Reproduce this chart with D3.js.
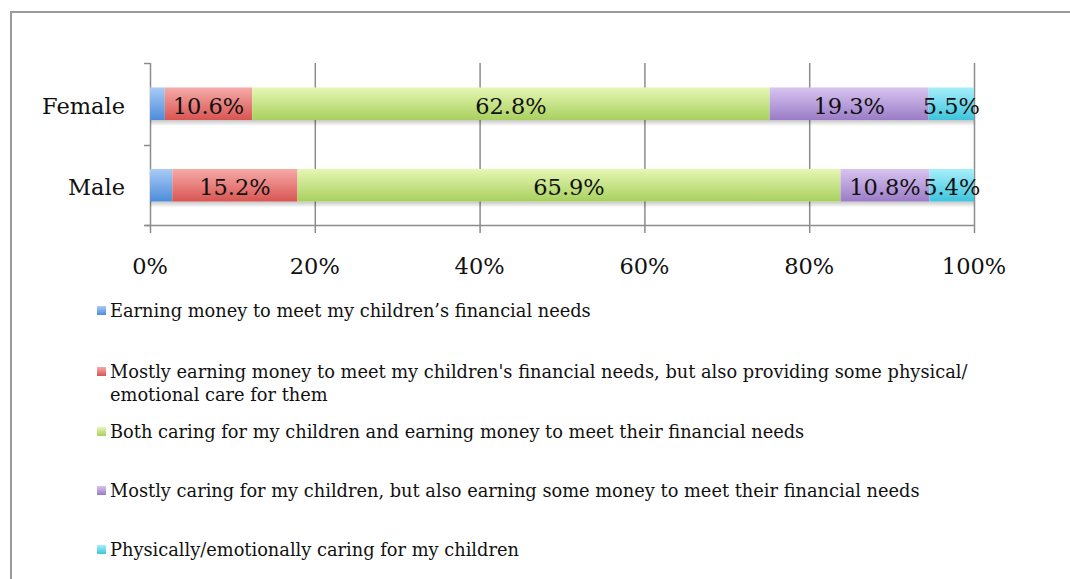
<!DOCTYPE html>
<html>
<head>
<meta charset="utf-8">
<script src="https://cdn.jsdelivr.net/npm/d3@7"></script>
<style>
  html, body { margin: 0; padding: 0; background: #fff; }
  svg { display: block; font-family: "DejaVu Serif", "Liberation Serif", serif; }
</style>
</head>
<body>
<svg id="chart" width="1070" height="579"></svg>
<script>
// Share of respondents by how they describe their parenting role
const groups = ["Female", "Male"];
const seriesNames = [
  "Earning money to meet my children\u2019s financial needs",
  "Mostly earning money to meet my children's financial needs, but also providing some physical/ emotional care for them",
  "Both caring for my children and earning money to meet their financial needs",
  "Mostly caring for my children, but also earning some money to meet their financial needs",
  "Physically/emotionally caring for my children"
];
const femaleValues = [1.8, 10.6, 62.8, 19.3, 5.5];
const maleValues = [2.7, 15.2, 65.9, 10.8, 5.4];
const xTicks = [0, 20, 40, 60, 80, 100];
// legend text broken into lines as displayed
const legendLines = [
  ["Earning money to meet my children\u2019s financial needs"],
  ["Mostly earning money to meet my children's financial needs, but also providing some physical/", "emotional care for them"],
  ["Both caring for my children and earning money to meet their financial needs"],
  ["Mostly caring for my children, but also earning some money to meet their financial needs"],
  ["Physically/emotionally caring for my children"]
];
const palette = [
  ["#aacbf6", "#4d8cd9"],
  ["#f6aba8", "#d85552"],
  ["#e6f7b4", "#a8d05e"],
  ["#d8c4f0", "#9a7cc6"],
  ["#a6effb", "#3ec4dd"]
];

const svg = d3.select("#chart");
const defs = svg.append("defs");
palette.forEach((c, i) => {
  const g = defs.append("linearGradient").attr("id", "grad" + i)
    .attr("x1", 0).attr("y1", 0).attr("x2", 0).attr("y2", 1);
  g.append("stop").attr("offset", "0%").attr("stop-color", c[0]);
  g.append("stop").attr("offset", "100%").attr("stop-color", c[1]);
});
const sh = defs.append("linearGradient").attr("id", "shadow")
  .attr("x1", 0).attr("y1", 0).attr("x2", 0).attr("y2", 1);
sh.append("stop").attr("offset", "0%").attr("stop-color", "#000").attr("stop-opacity", 0.22);
sh.append("stop").attr("offset", "100%").attr("stop-color", "#000").attr("stop-opacity", 0);

// outer frame
svg.append("rect").attr("x", 11).attr("y", 12).attr("width", 1080).attr("height", 600)
  .attr("fill", "none").attr("stroke", "#9a9a9a").attr("stroke-width", 2);

const x = d3.scaleLinear().domain([0, 100]).range([150, 974]);
const y = d3.scaleBand().domain(groups).range([63, 226]).paddingInner(0.6).paddingOuter(0.3);

const rows = groups.map((g, gi) => {
  const vals = gi === 0 ? femaleValues : maleValues;
  let acc = 0;
  return vals.map((v, si) => {
    const seg = { group: g, s: si, v, x0: acc, x1: acc + v };
    acc += v;
    return seg;
  });
});

// gridlines (extend below axis as tick marks)
svg.append("g").selectAll("line").data(xTicks.slice(1)).join("line")
  .attr("x1", d => x(d) + 0.5).attr("x2", d => x(d) + 0.5)
  .attr("y1", 63).attr("y2", 233)
  .attr("stroke", "#8c8c8c").attr("stroke-width", 1.5);

// x axis line
svg.append("line").attr("x1", 145).attr("x2", x(100) + 1).attr("y1", 225.5).attr("y2", 225.5)
  .attr("stroke", "#8c8c8c").attr("stroke-width", 1.5);
// category axis line and ticks
svg.append("line").attr("x1", 150.5).attr("x2", 150.5).attr("y1", 63).attr("y2", 233)
  .attr("stroke", "#8c8c8c").attr("stroke-width", 1.5);
const catTicks = [63, 145, 225];
svg.append("g").selectAll("line").data(catTicks).join("line")
  .attr("x1", 144).attr("x2", 150).attr("y1", d => d + 0.5).attr("y2", d => d + 0.5)
  .attr("stroke", "#8c8c8c").attr("stroke-width", 1.5);

// x tick labels
svg.append("g").selectAll("text").data(xTicks).join("text")
  .attr("x", d => x(d)).attr("y", 274)
  .attr("text-anchor", "middle").attr("font-size", 22.5).attr("fill", "#111")
  .text(d => d + "%");

// category labels
svg.append("g").selectAll("text").data(groups).join("text")
  .attr("x", 125).attr("y", g => y(g) + y.bandwidth() / 2 + 10)
  .attr("text-anchor", "end").attr("font-size", 22.5).attr("fill", "#111")
  .text(g => g);

// bars
const barG = svg.append("g");
rows.forEach(r => {
  const g = r[0].group;
  barG.append("rect")
    .attr("x", x(0)).attr("width", x(100) - x(0))
    .attr("y", y(g) + y.bandwidth()).attr("height", 6)
    .attr("fill", "url(#shadow)");
  barG.selectAll(null).data(r).join("rect")
    .attr("x", d => x(d.x0)).attr("width", d => x(d.x1) - x(d.x0))
    .attr("y", y(g)).attr("height", y.bandwidth())
    .attr("fill", d => "url(#grad" + d.s + ")");
  barG.selectAll(null).data(r.filter(d => d.s > 0)).join("text")
    .attr("x", d => x((d.x0 + d.x1) / 2)).attr("y", y(g) + y.bandwidth() / 2 + 10)
    .attr("text-anchor", "middle").attr("font-size", 22.5).attr("fill", "#111")
    .text(d => d.v.toFixed(1) + "%");
});

// legend
const legendTop = [311, 372, 432, 491, 550];
const lg = svg.append("g");
legendLines.forEach((lines, i) => {
  lg.append("rect").attr("x", 97).attr("y", legendTop[i] - 5).attr("width", 9).attr("height", 9)
    .attr("fill", "url(#grad" + i + ")");
  lines.forEach((ln, j) => {
    lg.append("text").attr("x", 110).attr("y", legendTop[i] + 6 + j * 23)
      .attr("font-size", 17.8).attr("fill", "#111").text(ln);
  });
});
</script>
</body>
</html>
